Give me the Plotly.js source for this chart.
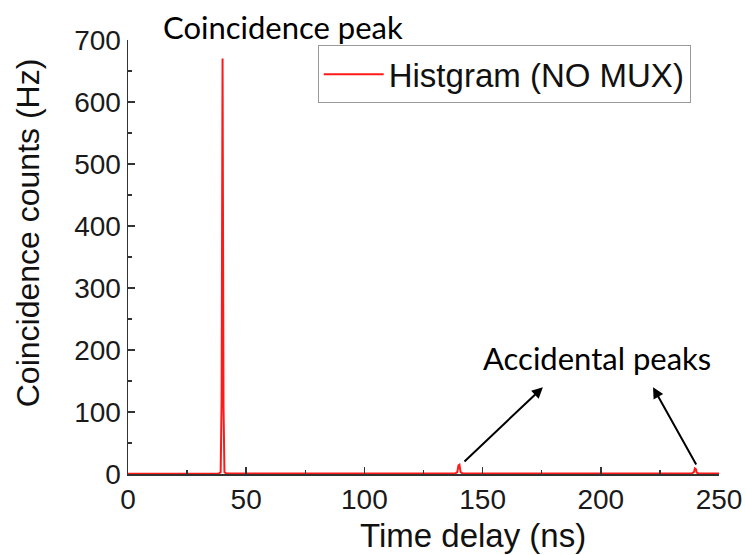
<!DOCTYPE html>
<html>
<head>
<meta charset="utf-8">
<script src="https://cdn.plot.ly/plotly-3.0.1.min.js"></script>
<style>html,body{margin:0;padding:0;background:#fff;}#chart{width:745px;height:555px;}</style>
</head>
<body>
<div id="chart"></div>
<script>
// Data
const timeNs = [0, 20, 38.5, 39.2, 39.6, 40.0, 40.4, 40.8, 41.5, 60, 100, 138.5, 139.3, 139.8, 140.2, 140.7, 141.5, 180, 220, 238.5, 239.4, 239.8, 240.2, 240.6, 241.5, 250];
const counts = [0.5, 1, 1, 3, 120, 670, 110, 3, 1, 1, 1, 1, 3, 14, 15, 3, 1, 1, 1, 1, 3, 9, 8, 2, 1, 1];
const seriesName = "Histgram (NO MUX)";
const xTicks = [0, 50, 100, 150, 200, 250];
const yTicks = [0, 100, 200, 300, 400, 500, 600, 700];

const trace = {
  x: timeNs, y: counts, type: 'scatter', mode: 'lines', name: seriesName,
  line: {color: '#ff1a1a', width: 2}
};

const arial = '"Liberation Sans", Arial, sans-serif';
const axisFont = {family: arial, size: 28, color: '#1a1a1a'};
const calibri = 'Lato, Carlito, Calibri, sans-serif';

const layout = {
  width: 745, height: 555,
  margin: {l: 128, r: 26, t: 40, b: 81},
  paper_bgcolor: '#fff', plot_bgcolor: '#fff',
  showlegend: true,
  legend: {
    x: 0.321, y: 0.988, xanchor: 'left', yanchor: 'top',
    bgcolor: '#fff', bordercolor: '#999', borderwidth: 1,
    itemwidth: 60, tracegroupgap: 0,
    font: {family: arial, size: 33, color: '#111'}
  },
  xaxis: {
    range: [0, 250], tickvals: xTicks, ticktext: xTicks.map(String),
    ticks: 'inside', ticklen: 7, tickwidth: 1.5, tickcolor: '#333',
    minor: {dtick: 25, ticks: 'inside', ticklen: 4, tickwidth: 1.5, tickcolor: '#333'},
    showline: true, linecolor: '#333', linewidth: 1.5, showgrid: false, zeroline: false,
    tickfont: axisFont
  },
  yaxis: {
    range: [0, 700], tickvals: yTicks, ticktext: yTicks.map(String),
    ticks: 'inside', ticklen: 7, tickwidth: 1.5, tickcolor: '#333',
    minor: {dtick: 50, ticks: 'inside', ticklen: 4, tickwidth: 1.5, tickcolor: '#333'},
    showline: true, linecolor: '#333', linewidth: 1.5, showgrid: false, zeroline: false,
    tickfont: axisFont
  },
  annotations: [
    {xref: 'paper', yref: 'paper', x: 0.584, y: -0.141, xanchor: 'center', yanchor: 'middle',
     text: 'Time delay (ns)', showarrow: false, font: {family: arial, size: 33, color: '#111'}},
    {xref: 'paper', yref: 'paper', x: -0.169, y: 0.555, xanchor: 'center', yanchor: 'middle', textangle: -90,
     text: 'Coincidence counts (Hz)', showarrow: false, font: {family: arial, size: 32, color: '#111'}},
    {xref: 'paper', yref: 'paper', x: 0.262, y: 1.03, xanchor: 'center', yanchor: 'middle',
     text: 'Coincidence peak', showarrow: false, font: {family: calibri, size: 31, color: '#000'}},
    {xref: 'paper', yref: 'paper', x: 0.794, y: 0.267, xanchor: 'center', yanchor: 'middle',
     text: 'Accidental peaks', showarrow: false, font: {family: calibri, size: 31, color: '#000'}},
    {xref: 'x', yref: 'y', x: 175.5, y: 140, axref: 'x', ayref: 'y', ax: 141.7, ay: 18,
     text: '', showarrow: true, arrowhead: 2, arrowsize: 1.1, arrowwidth: 2, arrowcolor: '#000'},
    {xref: 'x', yref: 'y', x: 222.1, y: 140, axref: 'x', ayref: 'y', ax: 240.7, ay: 13,
     text: '', showarrow: true, arrowhead: 2, arrowsize: 1.1, arrowwidth: 2, arrowcolor: '#000'}
  ]
};

Plotly.newPlot('chart', [trace], layout, {displayModeBar: false, staticPlot: true});
</script>
</body>
</html>
